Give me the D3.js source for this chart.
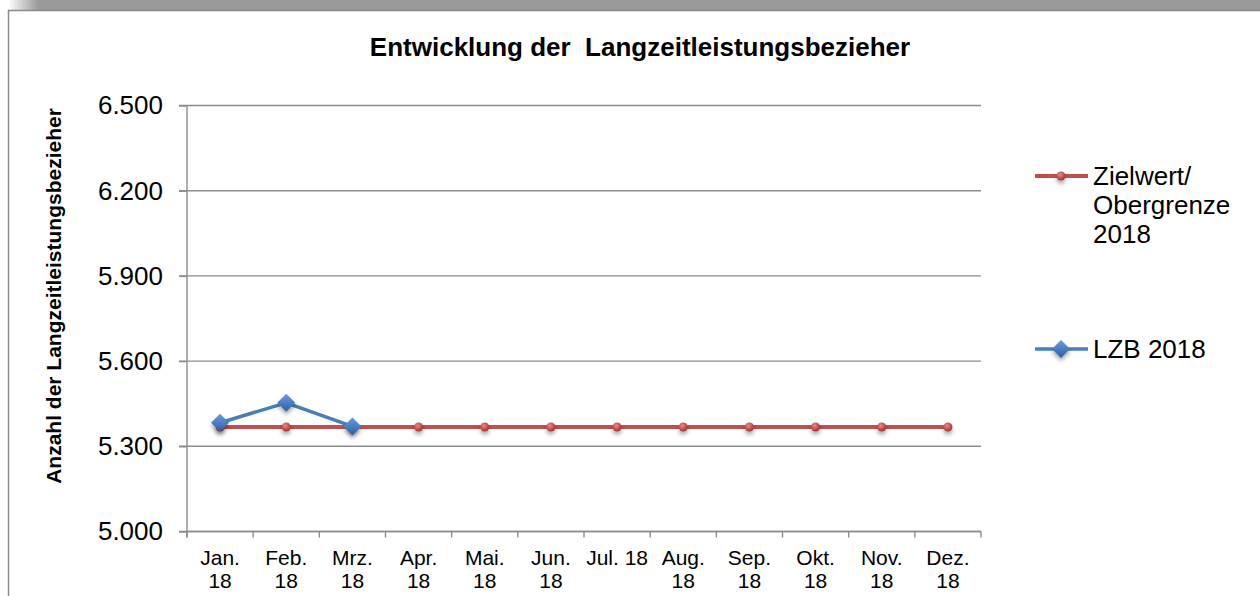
<!DOCTYPE html>
<html>
<head>
<meta charset="utf-8">
<script src="https://cdnjs.cloudflare.com/ajax/libs/d3/7.8.5/d3.min.js"></script>
<style>
  body { margin: 0; background: #fff; }
  svg { display: block; font-family: "Liberation Sans", Arial, sans-serif; }
</style>
</head>
<body>
<div id="chart"></div>
<script>
// - - - data - - -
var months = ["Jan. 18", "Feb. 18", "Mrz. 18", "Apr. 18", "Mai. 18", "Jun. 18",
              "Jul. 18", "Aug. 18", "Sep. 18", "Okt. 18", "Nov. 18", "Dez. 18"];
var zielwert = [5368, 5368, 5368, 5368, 5368, 5368, 5368, 5368, 5368, 5368, 5368, 5368];
var lzb = [5383, 5453, 5370];
var yTicks = [5000, 5300, 5600, 5900, 6200, 6500];
var seriesNames = [["Zielwert/", "Obergrenze", "2018"], ["LZB 2018"]];

var width = 1260, height = 596;
var plot = { left: 187, right: 981, top: 105.5, bottom: 531.5 };

var svg = d3.select('#chart')
            .append('svg')
            .attr('width', width)
            .attr('height', height);

// - - - frame - - -
var defs = svg.append('defs');
var fade = defs.append('linearGradient').attr('id', 'fade');
fade.append('stop').attr('offset', '0').attr('stop-color', '#9a9a9a').attr('stop-opacity', 0);
fade.append('stop').attr('offset', '1').attr('stop-color', '#9a9a9a');
svg.append('rect').attr('x', 8).attr('y', 0).attr('width', 30).attr('height', 10).attr('fill', 'url(#fade)');
svg.append('rect').attr('x', 38).attr('y', 0).attr('width', width - 38).attr('height', 10).attr('fill', '#9a9a9a');
svg.append('path')
   .attr('d', 'M8.5,' + height + 'V10.5H' + width)
   .attr('fill', 'none')
   .attr('stroke', '#8a8a8a')
   .attr('stroke-width', 1.5);

var shadow = defs.append('filter').attr('id', 'shadow')
   .attr('x', '-50%').attr('y', '-50%').attr('width', '200%').attr('height', '220%');
shadow.append('feDropShadow').attr('dx', 0).attr('dy', 3).attr('stdDeviation', 2)
   .attr('flood-color', '#000').attr('flood-opacity', 0.35);

var redGrad = defs.append('radialGradient').attr('id', 'redBall').attr('cx', '40%').attr('cy', '35%').attr('r', '65%');
redGrad.append('stop').attr('offset', '0').attr('stop-color', '#e88a86');
redGrad.append('stop').attr('offset', '1').attr('stop-color', '#a8322e');
var blueGrad = defs.append('linearGradient').attr('id', 'blueDia').attr('x1', 0).attr('y1', 0).attr('x2', 0).attr('y2', 1);
blueGrad.append('stop').attr('offset', '0').attr('stop-color', '#6a9ad6');
blueGrad.append('stop').attr('offset', '0.5').attr('stop-color', '#4a7fc4');
blueGrad.append('stop').attr('offset', '1').attr('stop-color', '#2c5c9a');

// - - - scales - - -
var x = d3.scaleBand().domain(months).range([plot.left, plot.right]);
var y = d3.scaleLinear().domain([5000, 6500]).range([plot.bottom, plot.top]);

// gridlines
svg.append('g')
   .selectAll('line')
   .data(yTicks)
   .enter()
   .append('line')
   .attr('x1', plot.left - 8)
   .attr('x2', plot.right)
   .attr('y1', function (d) { return y(d); })
   .attr('y2', function (d) { return y(d); })
   .attr('stroke', '#8c8c8c')
   .attr('stroke-width', 1.4);

// y axis
var yAxis = svg.append('g')
   .attr('transform', 'translate(' + plot.left + ',0)')
   .call(d3.axisLeft(y).tickValues(yTicks).tickSize(8).tickPadding(16)
         .tickFormat(function (d) { return d3.format(',.0f')(d).replace(',', '.'); }));
yAxis.selectAll('text')
   .attr('font-size', 26).attr('fill', '#000').attr('font-family', '"Liberation Sans", Arial, sans-serif');
yAxis.selectAll('line, path').attr('stroke', '#8c8c8c').attr('stroke-width', 1.4);
yAxis.select('.domain').attr('d', 'M0,' + plot.top + 'V' + (plot.bottom + 6));

// x axis
var xAxis = svg.append('g')
   .attr('transform', 'translate(0,' + plot.bottom + ')')
   .call(d3.axisBottom(x).tickSize(0).tickFormat(''));
xAxis.select('.domain').attr('d', 'M' + plot.left + ',0H' + plot.right)
   .attr('stroke', '#8c8c8c').attr('stroke-width', 1.4);
xAxis.selectAll('.bound')
   .data(d3.range(months.length + 1))
   .enter()
   .append('line')
   .attr('class', 'bound')
   .attr('x1', function (i) { return plot.left + i * x.step(); })
   .attr('x2', function (i) { return plot.left + i * x.step(); })
   .attr('y1', 0).attr('y2', 6)
   .attr('stroke', '#8c8c8c').attr('stroke-width', 1.4);

// category labels, wrapped to band width
var labels = svg.append('g').attr('font-size', 21).attr('text-anchor', 'middle');
months.forEach(function (m) {
  var t = labels.append('text')
     .attr('x', x(m) + x.bandwidth() / 2)
     .attr('y', 565)
     .text(m);
  if (t.node().getComputedTextLength() > x.bandwidth()) {
    var parts = m.split(' ');
    t.text(null);
    parts.forEach(function (p, i) {
      t.append('tspan').attr('x', x(m) + x.bandwidth() / 2).attr('dy', i === 0 ? 0 : 23).text(p);
    });
  }
});

// - - - series - - -
function cx(d, i) { return x(months[i]) + x.bandwidth() / 2; }
var line = d3.line().x(cx).y(function (d) { return y(d); });

svg.append('path').datum(zielwert)
   .attr('d', line).attr('fill', 'none')
   .attr('stroke', '#c0504d').attr('stroke-width', 4);
svg.append('g').selectAll('circle')
   .data(zielwert).enter()
   .append('circle')
   .attr('cx', cx).attr('cy', function (d) { return y(d); })
   .attr('r', 4.5)
   .attr('fill', 'url(#redBall)')
   .attr('filter', 'url(#shadow)');

svg.append('path').datum(lzb)
   .attr('d', line).attr('fill', 'none')
   .attr('stroke', '#4a7ebb').attr('stroke-width', 3.5);
var diamond = 'M0,-9L9,0L0,9L-9,0Z';
svg.append('g').selectAll('path')
   .data(lzb).enter()
   .append('path')
   .attr('d', diamond)
   .attr('transform', function (d, i) { return 'translate(' + cx(d, i) + ',' + y(d) + ')'; })
   .attr('fill', 'url(#blueDia)')
   .attr('filter', 'url(#shadow)');

// - - - titles - - -
svg.append('text')
   .attr('x', 640).attr('y', 56)
   .attr('text-anchor', 'middle')
   .attr('font-size', 26).attr('font-weight', 'bold')
   .style('white-space', 'pre')
   .text('Entwicklung der  Langzeitleistungsbezieher');

svg.append('text')
   .attr('transform', 'translate(61,296) rotate(-90)')
   .attr('text-anchor', 'middle')
   .attr('font-size', 21).attr('font-weight', 'bold')
   .text('Anzahl der Langzeitleistungsbezieher');

// - - - legend - - -
var legendY = [176, 349];
var colors = ['#c0504d', '#4a7ebb'];
seriesNames.forEach(function (name, i) {
  var g = svg.append('g').attr('transform', 'translate(0,' + legendY[i] + ')');
  g.append('line').attr('x1', 1035).attr('x2', 1088).attr('y1', 0).attr('y2', 0)
   .attr('stroke', colors[i]).attr('stroke-width', i === 0 ? 4 : 3.5);
  if (i === 0) {
    g.append('circle').attr('cx', 1061).attr('cy', 0).attr('r', 4.5)
     .attr('fill', 'url(#redBall)').attr('filter', 'url(#shadow)');
  } else {
    g.append('path').attr('d', diamond).attr('transform', 'translate(1061,0)')
     .attr('fill', 'url(#blueDia)').attr('filter', 'url(#shadow)');
  }
  var t = g.append('text').attr('x', 1093).attr('y', 9).attr('font-size', 26);
  name.forEach(function (s, j) {
    t.append('tspan').attr('x', 1093).attr('dy', j === 0 ? 0 : 29).text(s);
  });
});
</script>
</body>
</html>
